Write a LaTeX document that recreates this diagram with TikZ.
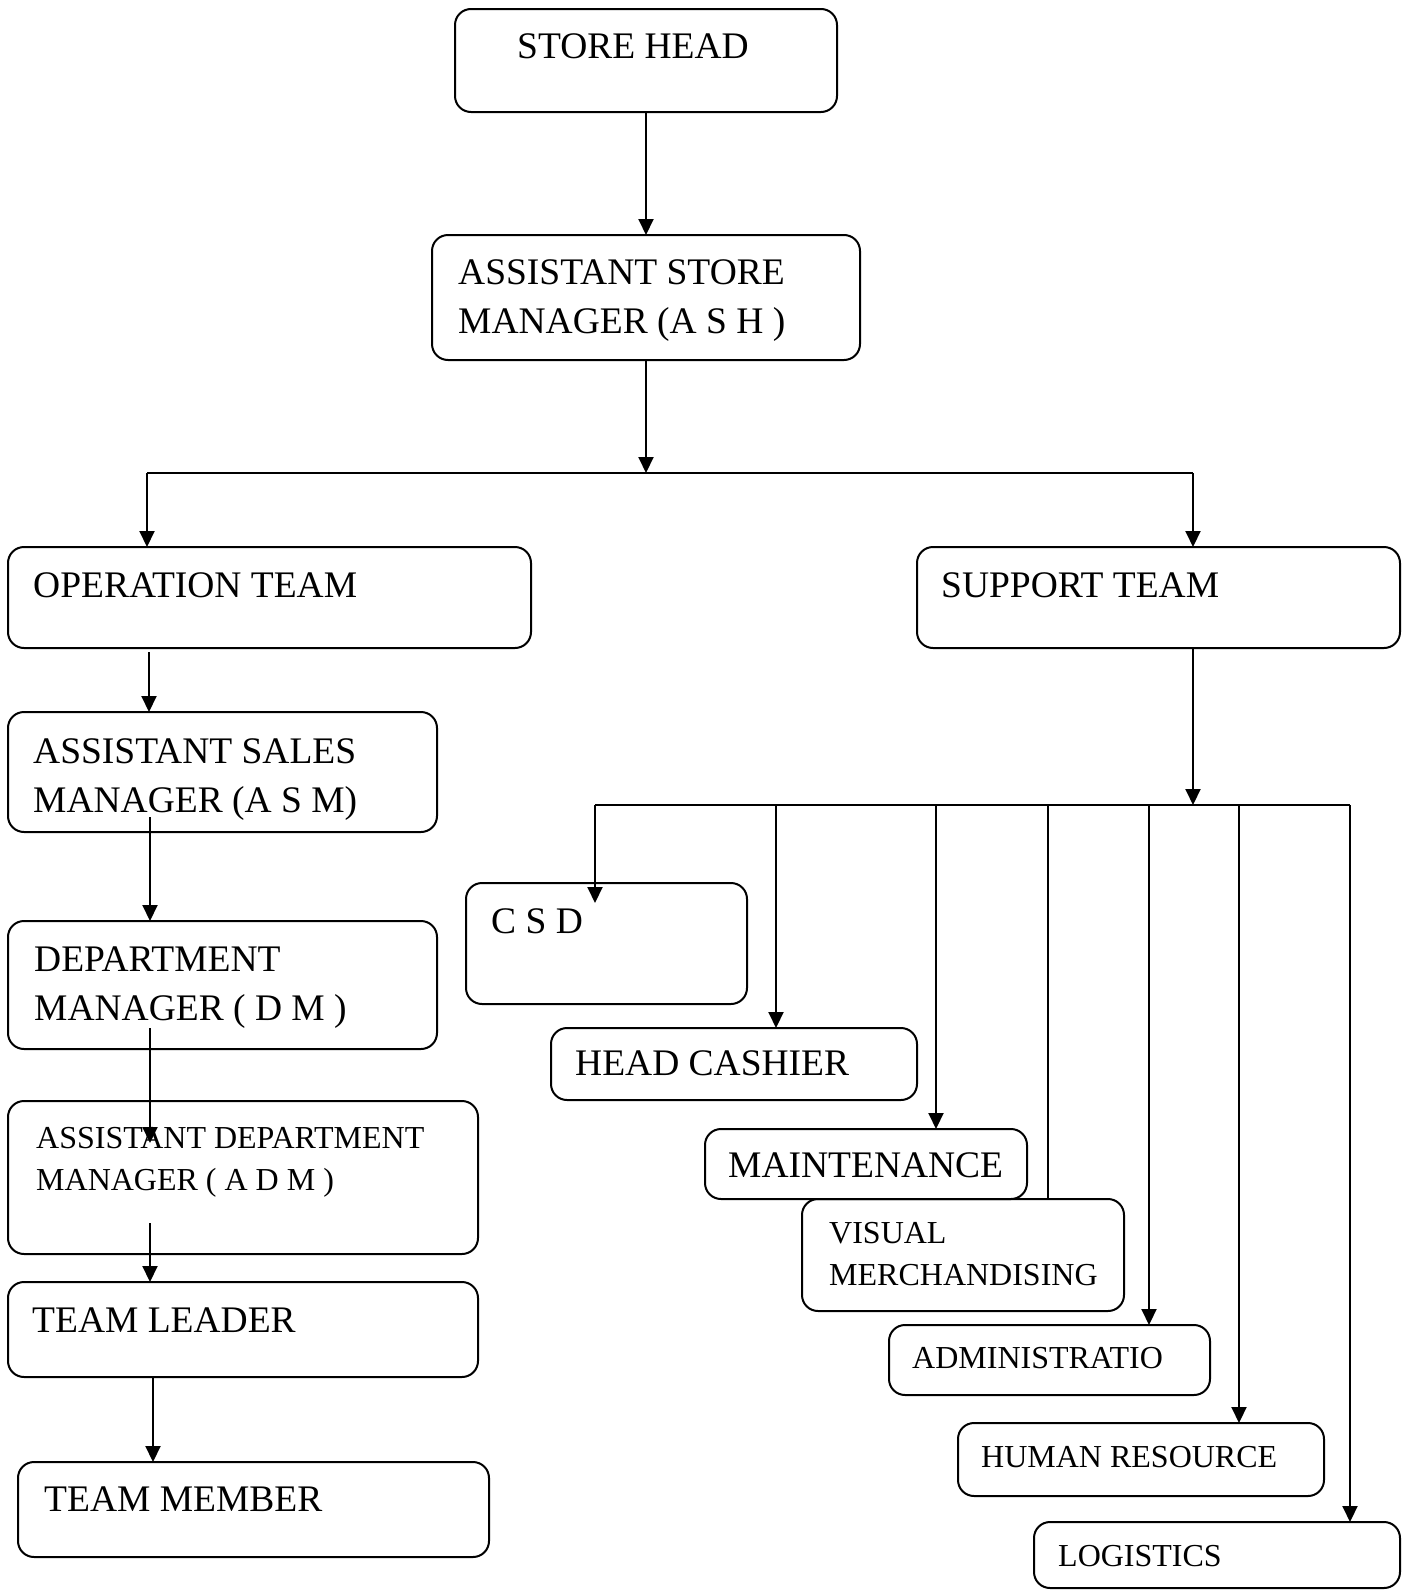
\documentclass[tikz,border=0pt]{standalone}
\usepackage{fontspec}
\setmainfont{Liberation Serif}
\usetikzlibrary{arrows.meta}
\begin{document}
\begin{tikzpicture}[x=1pt,y=-1pt,
  box/.style={draw, line width=2pt, rounded corners=16pt, anchor=north west, inner sep=0pt, outer sep=0pt},
  big/.style={anchor=base west, inner sep=0pt, font=\fontsize{37.5}{49}\selectfont, align=left},
  small/.style={anchor=base west, inner sep=0pt, font=\fontsize{32}{42}\selectfont, align=left},
  arr/.style={line width=2pt, -{Triangle[length=16pt,width=15pt]}},
  ln/.style={line width=2pt}]
\useasboundingbox (0,0) rectangle (1410,1590);
% boxes
\node[box, minimum width=382pt, minimum height=103pt] (sh) at (455,9) {};
\node[box, minimum width=428pt, minimum height=125pt] (ash) at (432,235) {};
\node[box, minimum width=523pt, minimum height=101pt] (optm) at (8,547) {};
\node[box, minimum width=483pt, minimum height=101pt] (sup) at (917,547) {};
\node[box, minimum width=429pt, minimum height=120pt] (asm) at (8,712) {};
\node[box, minimum width=429pt, minimum height=128pt] (dm) at (8,921) {};
\node[box, minimum width=470pt, minimum height=153pt] (adm) at (8,1101) {};
\node[box, minimum width=470pt, minimum height=95pt] (tl) at (8,1282) {};
\node[box, minimum width=471pt, minimum height=95pt] (tm) at (18,1462) {};
\node[box, minimum width=281pt, minimum height=121pt] (csd) at (466,883) {};
\node[box, minimum width=366pt, minimum height=72pt] (hc) at (551,1028) {};
\node[box, minimum width=322pt, minimum height=70pt] (mt) at (705,1129) {};
\node[box, minimum width=322pt, minimum height=112pt] (vm) at (802,1199) {};
\node[box, minimum width=321pt, minimum height=70pt] (adn) at (889,1325) {};
\node[box, minimum width=366pt, minimum height=73pt] (hr) at (958,1423) {};
\node[box, minimum width=366pt, minimum height=66pt] (lg) at (1034,1522) {};
% texts (multi-line nodes are anchored at the baseline of their last line)
\node[big] (tsh) at (517,58) {STORE HEAD};
\node[big] (tash) at (458,333) {ASSISTANT STORE\\MANAGER (A S H )};
\node[big] (toptm) at (33,597) {OPERATION TEAM};
\node[big] (tsup) at (941,597) {SUPPORT TEAM};
\node[big] (tasm) at (33,812) {ASSISTANT SALES\\MANAGER (A S M)};
\node[big] (tdm) at (34,1020) {DEPARTMENT\\MANAGER ( D M )};
\node[small] (tadm) at (36,1190) {ASSISTANT DEPARTMENT\\MANAGER ( A D M )};
\node[big] (ttl) at (32,1332) {TEAM LEADER};
\node[big] (ttm) at (44,1511) {TEAM MEMBER};
\node[big] (tcsd) at (491,933) {C S D};
\node[big] (thc) at (575,1075) {HEAD CASHIER};
\node[big] (tmt) at (728,1177) {MAINTENANCE};
\node[small] (tvm) at (829,1285) {VISUAL\\MERCHANDISING};
\node[small] (tadn) at (912,1368) {ADMINISTRATIO};
\node[small] (thr) at (981,1467) {HUMAN RESOURCE};
\node[small] (tlg) at (1058,1566) {LOGISTICS};
% top connectors
\coordinate (busL) at (147,473);
\coordinate (busR) at (1193,473);
\draw[arr] (sh.south) -- (ash.north);
\draw[arr] (ash.south) -- (ash.south |- busL);
\draw[ln] (busL) -- (busR);
\draw[arr] (busL) -- (busL |- optm.north);
\draw[arr] (busR) -- (busR |- sup.north);
% left chain
\coordinate (c1) at (149,652);
\coordinate (c2) at (150,817);
\coordinate (c3) at (150,1028);
\coordinate (c3e) at (150,1143);
\coordinate (c4) at (150,1223);
\coordinate (c5) at (153,1378);
\draw[arr] (c1) -- (c1 |- asm.north);
\draw[arr] (c2) -- (c2 |- dm.north);
\draw[arr] (c3) -- (c3e);
\draw[arr] (c4) -- (c4 |- tl.north);
\draw[arr] (c5) -- (c5 |- tm.north);
% right side
\coordinate (rb) at (1193,805);
\coordinate (bL) at (595,805);
\coordinate (bR) at (1350,805);
\coordinate (d2) at (776,805);
\coordinate (d3) at (936,805);
\coordinate (d4) at (1048,805);
\coordinate (d5) at (1149,805);
\coordinate (d6) at (1239,805);
\coordinate (csdTip) at (595,903);
\draw[arr] (sup.south -| rb) -- (rb);
\draw[ln] (bL) -- (bR);
\draw[arr] (bL) -- (csdTip);
\draw[arr] (d2) -- (d2 |- hc.north);
\draw[arr] (d3) -- (d3 |- mt.north);
\draw[ln] (d4) -- (d4 |- vm.north);
\draw[arr] (d5) -- (d5 |- adn.north);
\draw[arr] (d6) -- (d6 |- hr.north);
\draw[arr] (bR) -- (bR |- lg.north);
\end{tikzpicture}
\end{document}
